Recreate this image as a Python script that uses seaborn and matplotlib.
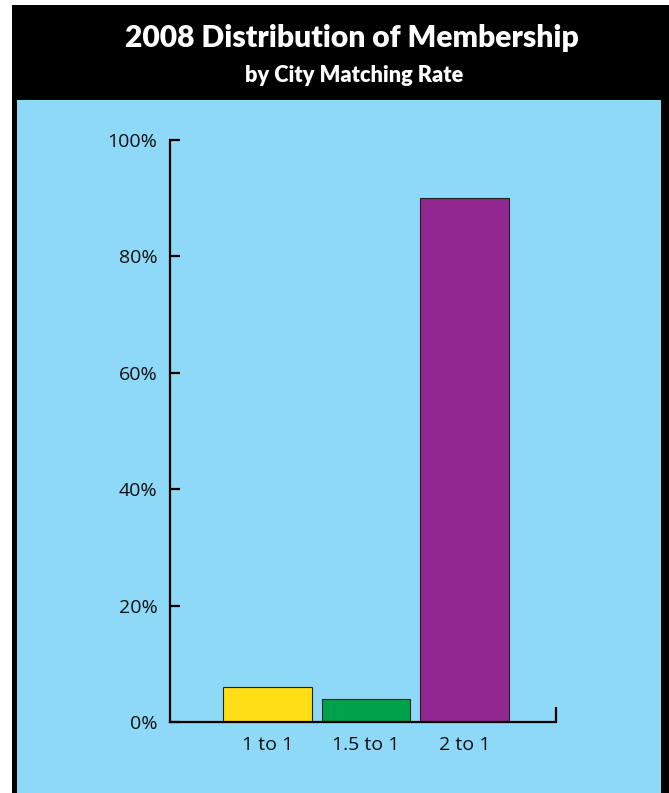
import matplotlib
matplotlib.use("Agg")
import matplotlib.pyplot as plt
import seaborn as sns
import pandas as pd
from matplotlib.patches import Rectangle

categories = ["1 to 1", "1.5 to 1", "2 to 1"]
values = [6, 4, 90]
colors = ["#FFDD17", "#00A14B", "#92278F"]
yticks = [0, 20, 40, 60, 80, 100]
ytick_labels = ["0%", "20%", "40%", "60%", "80%", "100%"]

sns.set_theme(style="white")
plt.rcParams["font.family"] = ["Open Sans", "DejaVu Sans"]

W, H = 669, 793
fig = plt.figure(figsize=(W / 100, H / 100), dpi=100)
fig.patch.set_facecolor("white")

# background panels
fig.add_artist(Rectangle((12 / W, 0), (W - 12) / W, (H - 5) / H,
                         transform=fig.transFigure, facecolor="black", edgecolor="none", zorder=0))
fig.add_artist(Rectangle((17 / W, 0), (661 - 17) / W, (H - 100) / H,
                         transform=fig.transFigure, facecolor="#8ED8F8", edgecolor="none", zorder=0))

fig.text(352 / W, 1 - 38 / H, "2008 Distribution of Membership", color="white",
         fontsize=21.6, fontweight="heavy", ha="center", va="center", family=["Lato", "DejaVu Sans"])
fig.text(354 / W, 1 - 75 / H, "by City Matching Rate", color="white",
         fontsize=15.7, fontweight="heavy", ha="center", va="center", family=["Lato", "DejaVu Sans"])

ax = fig.add_axes([170 / W, (H - 722) / H, (556 - 170) / W, 582 / H])
ax.set_facecolor("none")
df = pd.DataFrame({"rate": categories, "share": values})
sns.barplot(data=df, x="rate", y="share", hue="rate", palette=colors, legend=False,
            width=0.9, edgecolor="#222222", linewidth=0.8, ax=ax, saturation=1)

ax.set_xlim(-0.99, 2.93)
ax.set_ylim(0, 100)
ax.set_yticks(yticks)
ax.set_yticklabels(ytick_labels)
ax.set_xlabel("")
ax.set_ylabel("")
for s in ["top", "right"]:
    ax.spines[s].set_visible(False)
for s in ["left", "bottom"]:
    ax.spines[s].set_color("black")
    ax.spines[s].set_linewidth(1.6)
ax.tick_params(axis="y", direction="in", length=7, width=1.6, color="black",
               labelsize=14, pad=9, labelcolor="#111111", left=True)
ax.tick_params(axis="x", length=0, labelsize=14, pad=10, labelcolor="#111111")
ax.plot([1, 1], [0, 0.025], transform=ax.transAxes, color="black", lw=1.6,
        clip_on=False, solid_capstyle="butt")

fig.savefig("out.png", dpi=100)
